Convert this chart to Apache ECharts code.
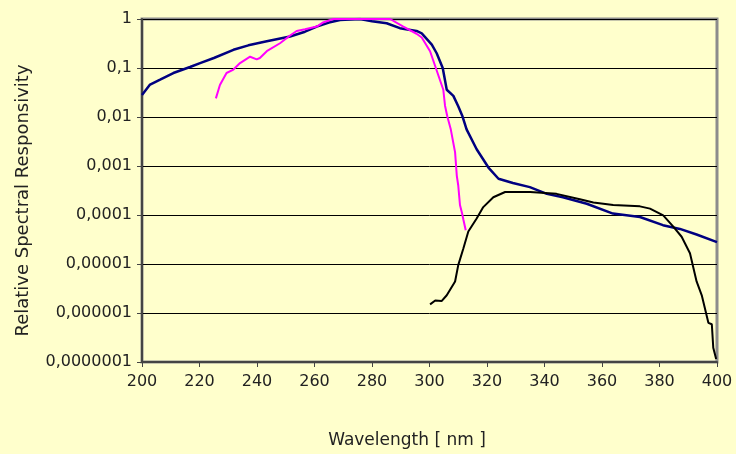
<!DOCTYPE html>
<html>
<head>
<meta charset="utf-8">
<script src="https://cdn.jsdelivr.net/npm/echarts@6/dist/echarts.min.js"></script>
<style>
  html, body { margin: 0; padding: 0; background: #ffffcc; }
  #chart { width: 736px; height: 454px; }
</style>
</head>
<body>
<div id="chart"></div>
<script>
// --- data ---
const xTicks = [200, 220, 240, 260, 280, 300, 320, 340, 360, 380, 400]
const yTickLabels = ['1', '0,1', '0,01', '0,001', '0,0001', '0,00001', '0,000001', '0,0000001']

// navy curve
const blueNm = [200, 200.5, 202.8, 206.3, 210.9, 216.7, 220.2, 225, 231.8, 237, 243.4, 251.5,
  256.7, 260.8, 265, 268.9, 275.8, 280, 285.1, 289.7, 295.5, 297.3, 300.8, 302.5, 304.6, 306, 308.3, 310,
  311.5, 312.9, 316.4, 320.5, 324, 329, 334.9, 340.8, 346.4, 354.7, 363.8, 373.2, 381.2, 387.1, 392.9, 400]
const blueVal = [0.028, 0.029, 0.046, 0.058, 0.079, 0.105, 0.126, 0.16, 0.235, 0.29, 0.35, 0.44,
  0.55, 0.70, 0.85, 0.95, 1.0, 0.9, 0.82, 0.65, 0.57, 0.51, 0.30, 0.20, 0.1, 0.036, 0.027, 0.0166,
  0.0102, 0.0056, 0.0022, 0.00093, 0.00055, 0.00045, 0.00037, 0.00027, 0.00023, 0.00017, 0.000107,
  0.000091, 0.000062, 0.000052, 0.00004, 0.000028]

// magenta curve
const pinkNm = [225.7, 227.1, 229.4, 231.8, 234.1, 237.6, 239.9, 241, 243.4, 248, 251.5, 253.8,
  256.7, 260.8, 263, 266.5, 272.3, 286.3, 290.9, 295.5, 297.3, 300.2, 302.2, 304.8, 305.4, 306.2,
  307.4, 308.9, 309.5, 310, 310.6, 311.3, 311.8, 312.6]
const pinkVal = [0.024, 0.045, 0.079, 0.093, 0.126, 0.17, 0.15, 0.16, 0.22, 0.32, 0.46, 0.57,
  0.62, 0.70, 0.85, 1.0, 1.0, 1.0, 0.7, 0.5, 0.42, 0.22, 0.1, 0.036, 0.017, 0.0102,
  0.0056, 0.0019, 0.00063, 0.0004, 0.00016, 0.00011, 0.00008, 0.000049]

// black curve
const blackNm = [300.2, 302, 304.2, 306, 308.9, 310, 311.8, 313.5, 316.4, 318.7, 322.2, 326.3, 335,
  344.2, 352.3, 357, 363.9, 373.2, 376.7, 381.3, 384.8, 387.7, 390.6, 392.9, 394.7, 397, 398.2, 398.7, 399.7]
const blackVal = [1.5e-6, 1.8e-6, 1.75e-6, 2.3e-6, 4.4e-6, 9.5e-6, 2.1e-5, 4.6e-5, 8.5e-5, 1.45e-4,
  2.3e-4, 2.95e-4, 2.95e-4, 2.7e-4, 2.1e-4, 1.8e-4, 1.6e-4, 1.5e-4, 1.35e-4, 9.8e-5, 5.8e-5, 3.6e-5,
  1.66e-5, 4.4e-6, 2.3e-6, 6.3e-7, 5.9e-7, 1.95e-7, 1.15e-7]

const zip = (xs, ys) => xs.map((x, i) => [x, ys[i]])

const FONT = 'DejaVu Sans'
const chart = echarts.init(document.getElementById('chart'))

const lineSeries = (data, color, width) => ({
  type: 'line',
  data,
  showSymbol: false,
  smooth: false,
  lineStyle: { color, width },
  itemStyle: { color },
  animation: false
})

chart.setOption({
  backgroundColor: '#ffffcc',
  animation: false,
  grid: {
    left: 142, right: 19, top: 19, bottom: 90,
    show: true,
    backgroundColor: '#ffffcc',
    borderColor: '#8c8c8c',
    borderWidth: 3
  },
  xAxis: {
    type: 'value',
    min: xTicks[0],
    max: xTicks[xTicks.length - 1],
    interval: 20,
    name: 'Wavelength [ nm ]',
    nameLocation: 'middle',
    nameGap: 70,
    nameTextStyle: { fontFamily: FONT, fontSize: 17, color: '#222', padding: [0, 45, 0, 0] },
    axisLine: { onZero: false, lineStyle: { color: '#444', width: 2 } },
    axisTick: { inside: false, length: 5, lineStyle: { color: '#444', width: 1 } },
    axisLabel: { fontFamily: FONT, fontSize: 16, color: '#222', margin: 12 },
    splitLine: { show: false }
  },
  yAxis: {
    type: 'log',
    logBase: 10,
    min: 1e-7,
    max: 1,
    name: 'Relative Spectral Responsivity',
    nameLocation: 'middle',
    nameGap: 110,
    nameTextStyle: { fontFamily: FONT, fontSize: 18, color: '#222', padding: [0, 20, 0, 0] },
    axisLine: { lineStyle: { color: '#444', width: 2 } },
    axisTick: { inside: false, length: 5, lineStyle: { color: '#444', width: 1 } },
    axisLabel: {
      fontFamily: FONT, fontSize: 16, color: '#222', margin: 10,
      formatter: v => yTickLabels[Math.round(-Math.log10(v))]
    },
    splitLine: { lineStyle: { color: '#000', width: 1 } }
  },
  series: [
    lineSeries(zip(blueNm, blueVal), '#000080', 2.5),
    lineSeries(zip(pinkNm, pinkVal), '#ff00ff', 2),
    lineSeries(zip(blackNm, blackVal), '#000000', 2)
  ]
})
</script>
</body>
</html>
